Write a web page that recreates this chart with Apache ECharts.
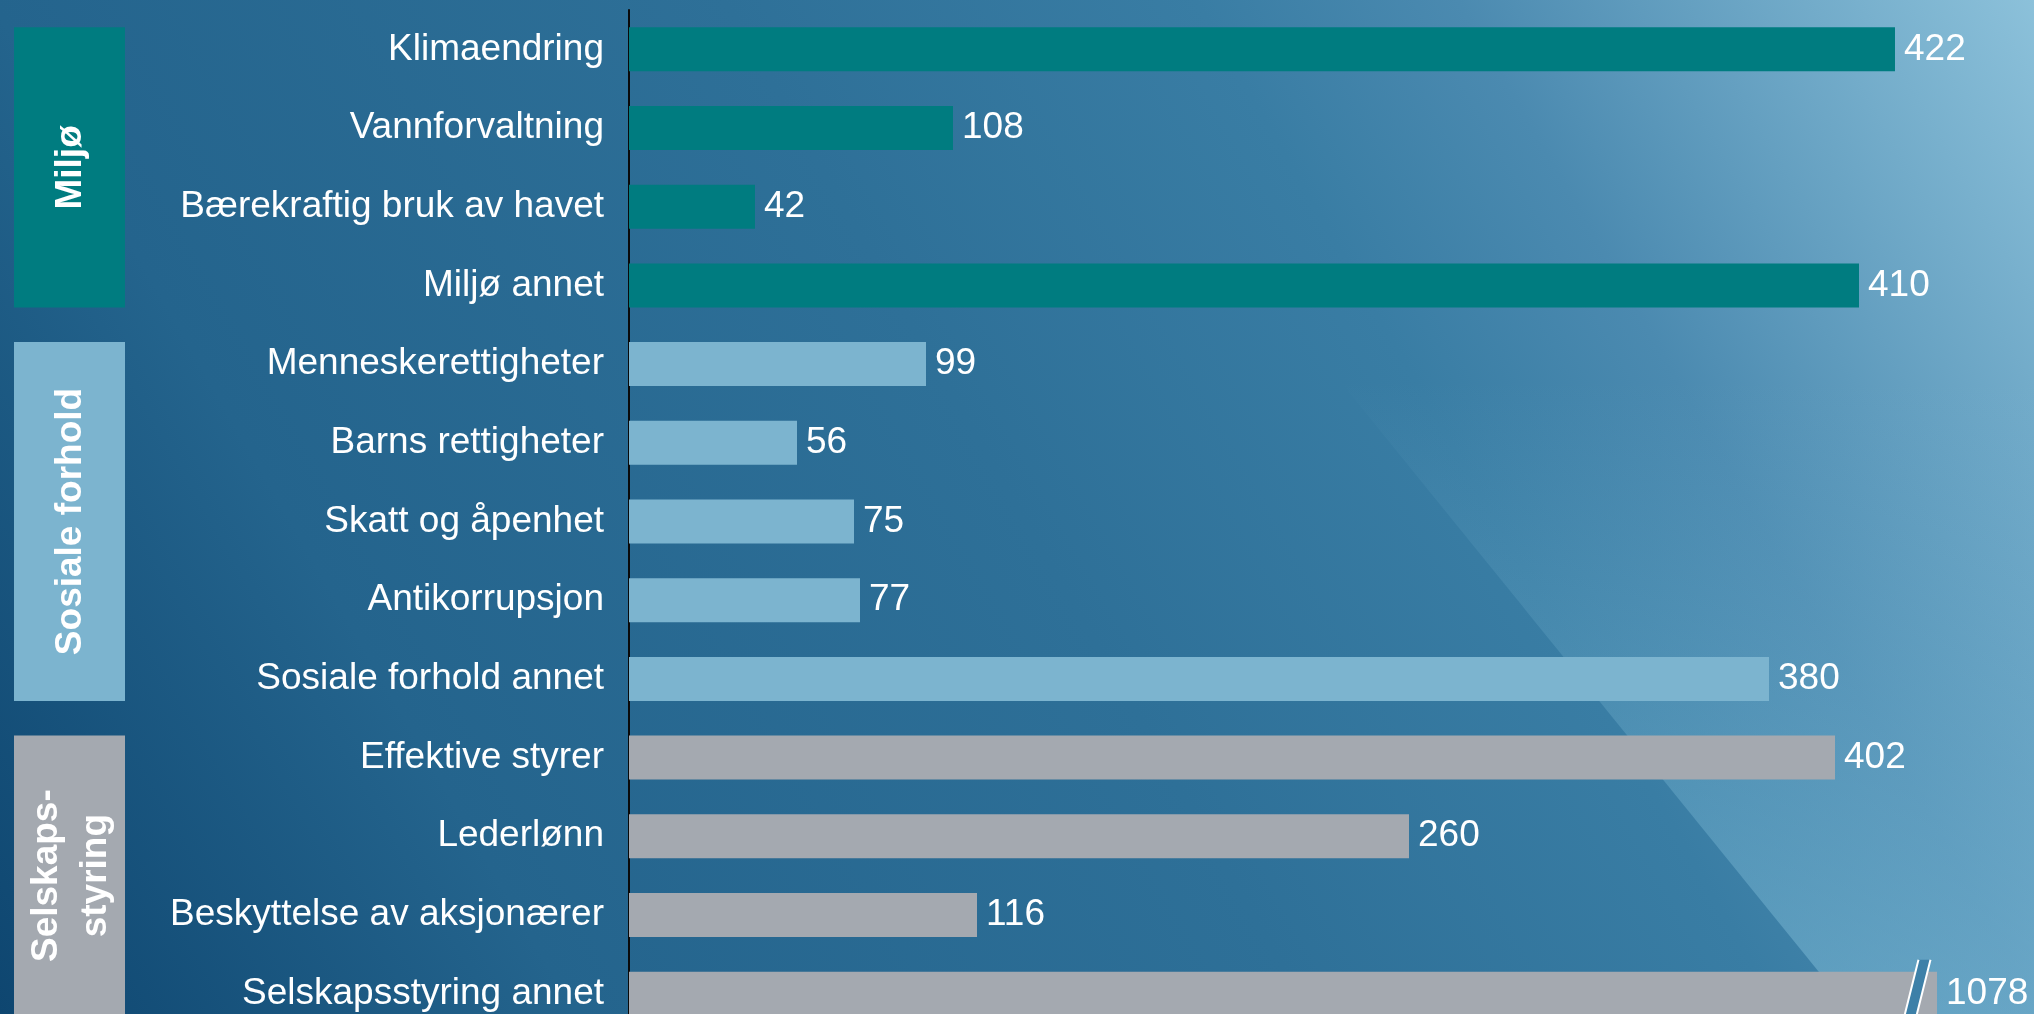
<!DOCTYPE html>
<html>
<head>
<meta charset="utf-8">
<script src="https://cdn.jsdelivr.net/npm/echarts@6/dist/echarts.min.js"></script>
<style>
  html, body { margin: 0; padding: 0; }
  #wrap {
    position: relative; width: 2034px; height: 1014px; overflow: hidden;
    background: linear-gradient(60deg, #0e4670 0%, #24648d 22%, #2e7098 50%, #397da4 68%, #4b8ab0 78%, #8cc1da 100%);
  }
  /* lighter diagonal panel to the right */
  #panel {
    position: absolute; left: 0; top: 0; width: 2034px; height: 1014px;
    clip-path: polygon(1031px 0, 2034px 0, 2034px 1014px, 1853px 1014px);
    background: linear-gradient(to bottom, rgba(140,200,225,0) 0px, rgba(140,200,225,0) 380px, rgba(140,200,225,0.45) 1014px);
  }
  #chart { position: absolute; left: 0; top: 0; width: 2034px; height: 1014px; }
</style>
</head>
<body>
<div id="wrap">
  <div id="panel"></div>
  <div id="chart"></div>
</div>
<script>
// kategorier (ovenfra og ned)
const categories = [
  'Klimaendring', 'Vannforvaltning', 'Bærekraftig bruk av havet', 'Miljø annet',
  'Menneskerettigheter', 'Barns rettigheter', 'Skatt og åpenhet', 'Antikorrupsjon', 'Sosiale forhold annet',
  'Effektive styrer', 'Lederlønn', 'Beskyttelse av aksjonærer', 'Selskapsstyring annet'
];
const values = [422, 108, 42, 410, 99, 56, 75, 77, 380, 402, 260, 116, 1078];

// grupper
const groupNames = ['Miljø', 'Sosiale forhold', 'Selskaps-\nstyring'];
const groupSizes = [4, 5, 4];
const groupColors = ['#007c80', '#7cb4cf', '#a4a9b0'];

// brutt akse: søylen over denne verdien kuttes
const axisBreakAt = 436;
const breakMarkAt = 429;

const FONT = '"Liberation Sans", Arial, sans-serif';

// farge per kategori ut fra gruppen
const barColors = [];
groupSizes.forEach((n, g) => { for (let i = 0; i < n; i++) barColors.push(groupColors[g]); });

const chart = echarts.init(document.getElementById('chart'));

const options = {
  backgroundColor: 'transparent',
  animation: false,
  grid: { left: 629, top: 10, width: 1350, height: 1023, outerBoundsMode: 'none', containLabel: false },
  xAxis: {
    type: 'value',
    min: 0,
    max: 450,
    show: false
  },
  yAxis: {
    type: 'category',
    inverse: true,
    data: categories,
    axisLine: { show: true, lineStyle: { color: '#0a0a0a', width: 2 } },
    axisTick: { show: false },
    axisLabel: { color: '#fff', fontSize: 37, fontFamily: FONT, margin: 25, padding: [6, 0, 0, 0] }
  },
  series: [
    {
      type: 'bar',
      barWidth: 44,
      data: values.map((v, i) => ({
        value: Math.min(v, axisBreakAt),
        itemStyle: { color: barColors[i] }
      })),
      label: {
        show: true,
        position: 'right',
        distance: 9,
        color: '#fff',
        fontSize: 37,
        fontFamily: FONT,
        padding: [6, 0, 0, 0],
        formatter: (p) => String(values[p.dataIndex])
      }
    },
    {
      // bruddmarkering på den lengste søylen
      type: 'custom',
      z: 5,
      encode: { x: 0, y: 1 },
      data: values.map((v, i) => [v, i]).filter(d => d[0] > axisBreakAt).map(d => [breakMarkAt, d[1]]),
      renderItem: function (params, api) {
        const c = api.coord([api.value(0), api.value(1)]);
        const h = 34, k = 0.25, w = 6;
        const tx = c[0] + k * h, bx = c[0] - k * h;
        const top = c[1] - h, bot = c[1] + h;
        return {
          type: 'group',
          children: [
            { type: 'polygon', shape: { points: [[tx - w, top], [tx + w, top], [bx + w, bot], [bx - w, bot]] },
              style: { fill: '#3d80a8' } },
            { type: 'line', shape: { x1: tx - w, y1: top, x2: bx - w, y2: bot }, style: { stroke: '#fff', lineWidth: 2 } },
            { type: 'line', shape: { x1: tx + w, y1: top, x2: bx + w, y2: bot }, style: { stroke: '#fff', lineWidth: 2 } }
          ]
        };
      }
    }
  ]
};

chart.setOption(options);

// gruppefelt til venstre, plassert etter kategoriaksen
const half = 22;
const graphics = [];
let start = 0;
groupSizes.forEach((n, g) => {
  const y0 = chart.convertToPixel({ yAxisIndex: 0 }, categories[start]) - half;
  const y1 = chart.convertToPixel({ yAxisIndex: 0 }, categories[start + n - 1]) + half;
  graphics.push({
    type: 'rect',
    shape: { x: 14, y: y0, width: 111, height: y1 - y0 },
    style: { fill: groupColors[g] }
  });
  graphics.push({
    type: 'text',
    x: 71,
    y: (y0 + y1) / 2,
    rotation: Math.PI / 2,
    style: {
      text: groupNames[g],
      fill: '#fff',
      fontSize: 37,
      fontWeight: 'bold',
      fontFamily: FONT,
      lineHeight: 49,
      align: 'center',
      verticalAlign: 'middle',
      textAlign: 'center',
      textVerticalAlign: 'middle'
    }
  });
  start += n;
});
chart.setOption({ graphic: graphics });
</script>
</body>
</html>
